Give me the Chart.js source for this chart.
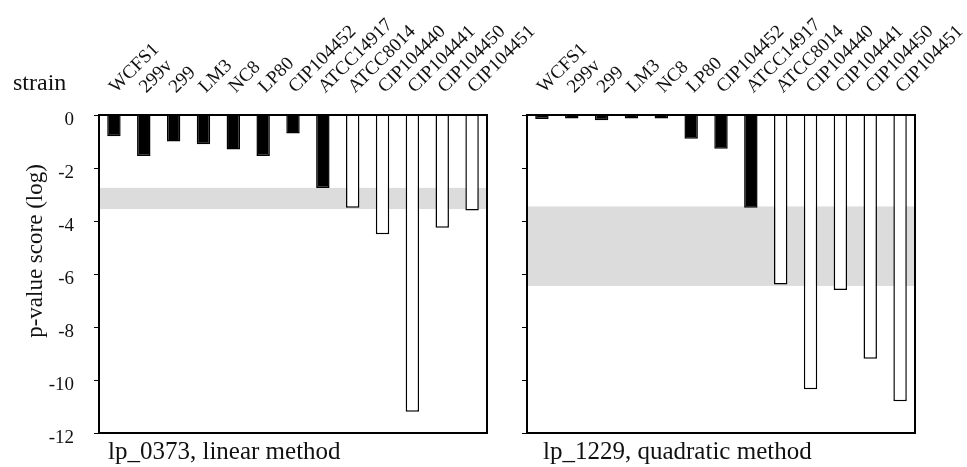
<!DOCTYPE html>
<html>
<head>
<meta charset="utf-8">
<script src="https://cdn.jsdelivr.net/npm/chart.js@4.4.1/dist/chart.umd.min.js"></script>
<style>
  html, body { margin: 0; padding: 0; background: #fff; }
  #wrap { position: relative; width: 967px; height: 467px; }
  canvas { position: absolute; left: 0; top: 0; }
</style>
</head>
<body>
<div id="wrap">
  <canvas id="linearChart" width="967" height="467"></canvas>
  <canvas id="quadChart" width="967" height="467"></canvas>
</div>
<script>
const strains = ["WCFS1", "299v", "299", "LM3", "NC8", "LP80", "CIP104452",
  "ATCC14917", "ATCC8014", "CIP104440", "CIP104441", "CIP104450", "CIP104451"];

// log p-value scores
const linearScores = [-0.8, -1.55, -1.0, -1.1, -1.3, -1.55, -0.7, -2.75,
  -3.5, -4.5, -11.2, -4.25, -3.6];
const quadraticScores = [-0.15, -0.13, -0.2, -0.13, -0.13, -0.9, -1.27, -3.5,
  -6.4, -10.35, -6.6, -9.2, -10.8];

// grey threshold bands [upper, lower]
const linearBand = [-2.75, -3.55];
const quadraticBand = [-3.45, -6.45];

const yMin = -12, yMax = 0, yStep = 2;
const filledCount = 8; // first strains drawn as black bars

const yTitle = "p-value score (log)";
const xTitle = "strain";

Chart.defaults.font.family = "'Liberation Serif', 'Times New Roman', serif";
Chart.defaults.color = "#111";

const panelPlugin = {
  id: "panel",
  beforeDatasetsDraw(chart, args, opts) {
    const { ctx, chartArea: a, scales: { y } } = chart;
    const t = y.getPixelForValue(opts.band[0]);
    const b = y.getPixelForValue(opts.band[1]);
    ctx.save();
    ctx.fillStyle = "#dcdcdc";
    ctx.fillRect(a.left, t, a.right - a.left, b - t);
    ctx.restore();
  },
  afterDatasetsDraw(chart, args, opts) {
    const { ctx, chartArea: a } = chart;
    ctx.save();
    ctx.strokeStyle = "#000";
    ctx.lineWidth = 2;
    ctx.strokeRect(a.left, a.top, a.right - a.left, a.bottom - a.top);

    ctx.fillStyle = "#111";
    ctx.textBaseline = "alphabetic";
    ctx.textAlign = "left";
    ctx.font = "25px 'Liberation Serif', serif";
    ctx.fillText(opts.caption, a.left + opts.captionShift, a.bottom + 26);

    if (opts.axisTitles) {
      ctx.font = "24px 'Liberation Serif', serif";
      ctx.fillText(xTitle, a.left - 86, a.top - 25);
      ctx.translate(a.left - 63, a.top + 136);
      ctx.rotate(-Math.PI / 2);
      ctx.textAlign = "center";
      ctx.textBaseline = "middle";
      ctx.font = "23px 'Liberation Serif', serif";
      ctx.fillText(yTitle, 0, 0);
    }
    ctx.restore();
  }
};

function makePanel(id, scores, band, caption, captionShift, left) {
  return new Chart(id, {
    type: "bar",
    data: {
      labels: strains,
      datasets: [{
        data: scores,
        backgroundColor: (c) => (c.dataIndex < filledCount ? "#000" : "#fff"),
        borderColor: "#000",
        borderWidth: 1.5,
        borderSkipped: "start",
        categoryPercentage: 1,
        barPercentage: 0.45
      }]
    },
    options: {
      responsive: false,
      animation: false,
      layout: {
        padding: left
          ? { left: 0, right: 480, top: 0, bottom: 34 }
          : { left: 517, right: 52, top: 0, bottom: 34 }
      },
      plugins: {
        legend: { display: false },
        tooltip: { enabled: false },
        panel: { band: band, caption: caption, captionShift: captionShift, axisTitles: left }
      },
      scales: {
        x: {
          position: "top",
          grid: { display: false, drawTicks: false },
          border: { display: false },
          ticks: {
            autoSkip: false,
            maxRotation: 45,
            minRotation: 45,
            padding: 17,
            labelOffset: 15,
            color: "#111",
            font: { size: 19 }
          },
          afterFit(s) {
            s.height = 115;
            // let the slanted names run past the frame like the original
            s.paddingLeft = 0;
            s.paddingRight = 0;
          }
        },
        y: {
          min: yMin,
          max: yMax,
          ticks: {
            display: left,
            stepSize: yStep,
            padding: 20,
            labelOffset: 5,
            color: "#111",
            font: { size: 19 }
          },
          grid: { drawOnChartArea: false, drawTicks: true, tickLength: 5, color: "#000", lineWidth: 1 },
          border: { display: false },
          afterFit(s) { s.width = left ? 99 : 10; }
        }
      }
    },
    plugins: [panelPlugin]
  });
}

makePanel("linearChart", linearScores, linearBand, "lp_0373, linear method", 9, true);
makePanel("quadChart", quadraticScores, quadraticBand, "lp_1229, quadratic method", 16, false);
</script>
</body>
</html>
